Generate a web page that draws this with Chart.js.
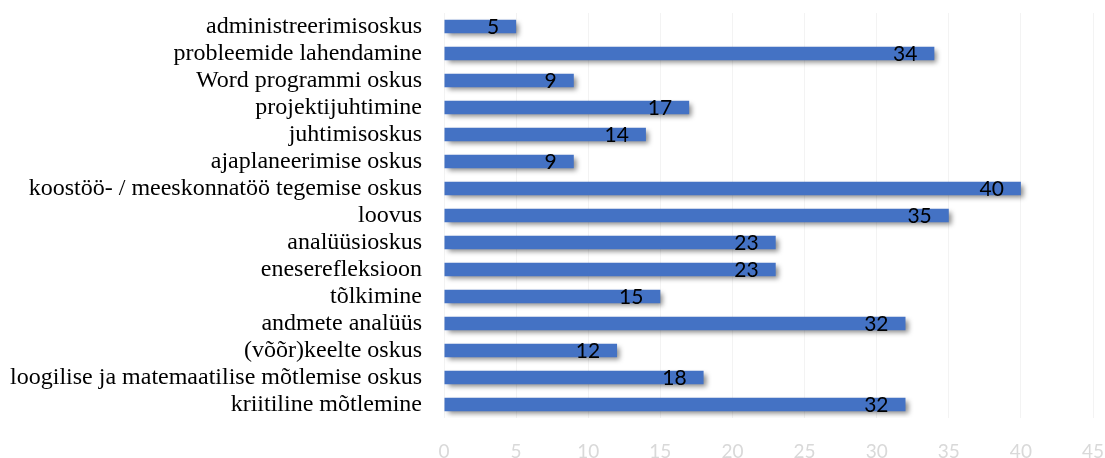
<!DOCTYPE html>
<html>
<head>
<meta charset="utf-8">
<script src="https://cdn.jsdelivr.net/npm/chart.js@4"></script>
<style>
  html, body { margin: 0; padding: 0; background: #fff; }
  #wrap { width: 1105px; height: 458px; position: relative; }
</style>
</head>
<body>
<div id="wrap"><canvas id="skills"></canvas></div>
<script>
  var categories = [
    'administreerimisoskus',
    'probleemide lahendamine',
    'Word programmi oskus',
    'projektijuhtimine',
    'juhtimisoskus',
    'ajaplaneerimise oskus',
    'koostöö- / meeskonnatöö tegemise oskus',
    'loovus',
    'analüüsioskus',
    'eneserefleksioon',
    'tõlkimine',
    'andmete analüüs',
    '(võõr)keelte oskus',
    'loogilise ja matemaatilise mõtlemise oskus',
    'kriitiline mõtlemine'
  ];
  var counts = [5, 34, 9, 17, 14, 9, 40, 35, 23, 23, 15, 32, 12, 18, 32];
  var xTicks = [0, 5, 10, 15, 20, 25, 30, 35, 40, 45];

  // bar fill: lighter at the top, darker at the bottom
  function barFill(context) {
    var el = context.element;
    var ctx = context.chart.ctx;
    if (!el || el.y === undefined || isNaN(el.y)) return '#4472c4';
    var h = el.height || 14;
    var g = ctx.createLinearGradient(0, el.y - h / 2, 0, el.y + h / 2);
    g.addColorStop(0, '#5688da');
    g.addColorStop(0.5, '#4472c4');
    g.addColorStop(1, '#3462b8');
    return g;
  }

  var shadowPlugin = {
    id: 'barShadow',
    beforeDatasetDraw: function(chart) {
      var ctx = chart.ctx;
      ctx.save();
      ctx.shadowColor = 'rgba(0,0,0,0.45)';
      ctx.shadowBlur = 5;
      ctx.shadowOffsetX = 3;
      ctx.shadowOffsetY = 3;
    },
    afterDatasetDraw: function(chart) {
      chart.ctx.restore();
    }
  };

  var valueLabels = {
    id: 'valueLabels',
    afterDatasetsDraw: function(chart) {
      var ctx = chart.ctx;
      var meta = chart.getDatasetMeta(0);
      ctx.save();
      ctx.font = '21px Lato';
      ctx.fillStyle = '#000';
      ctx.textAlign = 'right';
      ctx.textBaseline = 'middle';
      meta.data.forEach(function(bar, i) {
        ctx.fillText(String(counts[i]), bar.x - 17, bar.y + 1);
      });
      ctx.restore();
    }
  };

  new Chart(document.getElementById('skills'), {
    type: 'bar',
    data: {
      labels: categories,
      datasets: [{
        data: counts,
        backgroundColor: barFill,
        borderWidth: 0,
        categoryPercentage: 1,
        barPercentage: 0.5
      }]
    },
    options: {
      indexAxis: 'y',
      responsive: true,
      maintainAspectRatio: false,
      animation: false,
      layout: { padding: { top: 13, right: 12, left: 0, bottom: 0 } },
      plugins: {
        legend: { display: false },
        tooltip: { enabled: false }
      },
      scales: {
        x: {
          min: 0,
          max: 45,
          afterBuildTicks: function(scale) {
            scale.ticks = xTicks.map(function(v) { return { value: v }; });
          },
          afterFit: function(scale) {
            scale.height = 40;
            scale.paddingLeft = 0;
            scale.paddingRight = 0;
          },
          grid: { color: '#f3f3f3', drawTicks: false },
          border: { display: false },
          ticks: {
            padding: 22,
            color: '#d9d9d9',
            font: { family: 'Lato', size: 19 }
          }
        },
        y: {
          afterFit: function(scale) {
            scale.width = 444;
            scale.paddingTop = 0;
            scale.paddingBottom = 0;
          },
          grid: { display: false, drawTicks: false },
          border: { display: false },
          ticks: {
            padding: 22,
            color: '#000',
            autoSkip: false,
            font: { family: 'Liberation Serif', size: 24 }
          }
        }
      }
    },
    plugins: [shadowPlugin, valueLabels]
  });
</script>
</body>
</html>
